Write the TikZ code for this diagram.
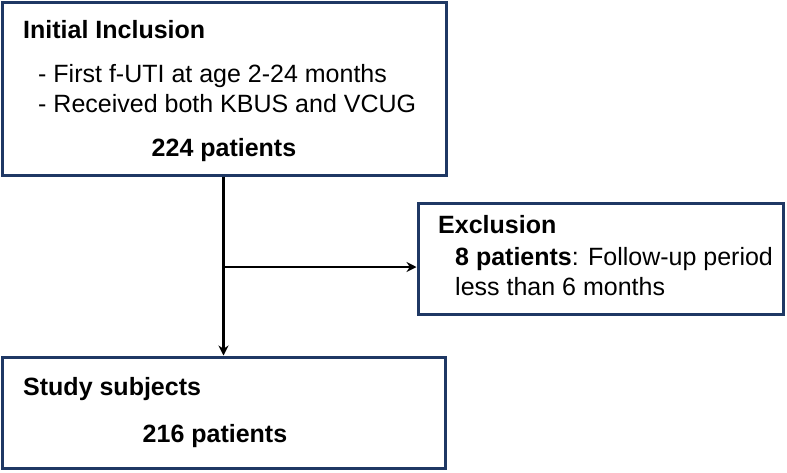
\documentclass[tikz,border=0pt]{standalone}
\usepackage{fontspec}
\setmainfont{Liberation Sans}
\usetikzlibrary{arrows.meta}
\definecolor{navy}{HTML}{1F3864}
\begin{document}
\begin{tikzpicture}[x=1pt,y=-1pt,
  boxst/.style={draw=navy,line width=3pt,fill=white},
  txt/.style={inner sep=0pt,anchor=base west,font=\fontsize{25}{29}\selectfont},
  btxt/.style={txt,font=\fontsize{25}{29}\selectfont\bfseries},
  ctxt/.style={inner sep=0pt,anchor=base,font=\fontsize{25}{29}\selectfont\bfseries},
  conn/.style={draw=black,line width=2.6pt},
  arr/.style={conn,-{Stealth[length=10pt,width=10pt]}}]
\useasboundingbox (0,0) rectangle (787,472);
\path[boxst] (2.5,2.5) rectangle (446,175);
\path[boxst] (418,203) rectangle (783,314);
\path[boxst] (2.5,357) rectangle (445,468.5);
\node[btxt] (t1) at (23,38) {Initial Inclusion};
\node[txt] (t2) at (38,82) {- First f-UTI at age 2-24 months};
\node[txt] (t3) at (38,112) {- Received both KBUS and VCUG};
\node[ctxt] (t4) at (224,156) {224 patients};
\node[btxt] (e1) at (438,233) {Exclusion};
\node[txt] (e2) at (455,265) {\textbf{8 patients}: Follow-up period};
\node[txt] (e3) at (455,295) {less than 6 months};
\node[btxt] (s1) at (23,395) {Study subjects};
\node[ctxt] (s2) at (215,442) {216 patients};
\coordinate (top) at (223.5,176.5);
\coordinate (bot) at (223.5,355.5);
\coordinate (br) at (223.5,267);
\coordinate (ex) at (416.5,267);
\draw[arr] (top) -- (bot);
\draw[arr] (br) -- (ex);
\end{tikzpicture}
\end{document}
